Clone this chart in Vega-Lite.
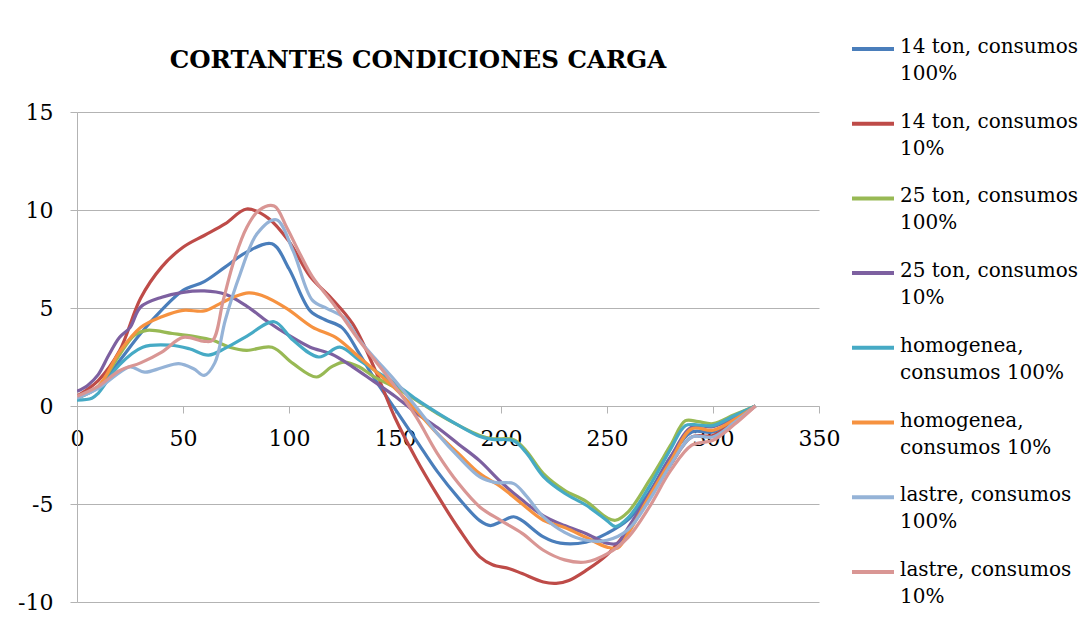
{
  "$schema": "https://vega.github.io/schema/vega-lite/v6.json",
  "autosize": {"type": "none"},
  "padding": {"left": 77, "top": 112, "right": 269, "bottom": 19},
  "width": 742,
  "height": 490,
  "background": "white",
  "title": {
    "text": "CORTANTES CONDICIONES CARGA",
    "font": "DejaVu Serif",
    "fontSize": 24.5,
    "fontWeight": "bold",
    "color": "black",
    "anchor": "middle",
    "dx": -30,
    "offset": 0,
    "dy": 47
  },
  "config": {
    "view": {"stroke": null},
    "axis": {
      "labelFont": "DejaVu Serif",
      "labelFontSize": 22,
      "labelColor": "black",
      "domainColor": "#b3b3b3",
      "tickColor": "#b3b3b3",
      "gridColor": "#b3b3b3",
      "tickSize": 7,
      "title": null,
      "labelExpr": "'' + datum.value"
    }
  },
  "data": {
    "values": [
      {"s":"14 ton, consumos 100%","x":0,"y":0.4},{"s":"14 ton, consumos 100%","x":10,"y":0.95},{"s":"14 ton, consumos 100%","x":20,"y":2.3},{"s":"14 ton, consumos 100%","x":30,"y":3.7},{"s":"14 ton, consumos 100%","x":40,"y":4.9},{"s":"14 ton, consumos 100%","x":50,"y":5.9},{"s":"14 ton, consumos 100%","x":60,"y":6.35},{"s":"14 ton, consumos 100%","x":70,"y":7.1},{"s":"14 ton, consumos 100%","x":80,"y":7.85},{"s":"14 ton, consumos 100%","x":92,"y":8.28},{"s":"14 ton, consumos 100%","x":100,"y":7.0},{"s":"14 ton, consumos 100%","x":110,"y":4.85},{"s":"14 ton, consumos 100%","x":117,"y":4.4},{"s":"14 ton, consumos 100%","x":125,"y":4.0},{"s":"14 ton, consumos 100%","x":133,"y":2.7},{"s":"14 ton, consumos 100%","x":140,"y":1.45},{"s":"14 ton, consumos 100%","x":150,"y":-0.15},{"s":"14 ton, consumos 100%","x":160,"y":-1.75},{"s":"14 ton, consumos 100%","x":170,"y":-3.35},{"s":"14 ton, consumos 100%","x":180,"y":-4.7},{"s":"14 ton, consumos 100%","x":190,"y":-5.85},{"s":"14 ton, consumos 100%","x":195,"y":-6.1},{"s":"14 ton, consumos 100%","x":200,"y":-5.9},{"s":"14 ton, consumos 100%","x":206,"y":-5.65},{"s":"14 ton, consumos 100%","x":210,"y":-5.85},{"s":"14 ton, consumos 100%","x":220,"y":-6.68},{"s":"14 ton, consumos 100%","x":228,"y":-7.0},{"s":"14 ton, consumos 100%","x":240,"y":-6.95},{"s":"14 ton, consumos 100%","x":250,"y":-6.5},{"s":"14 ton, consumos 100%","x":260,"y":-5.8},{"s":"14 ton, consumos 100%","x":270,"y":-4.4},{"s":"14 ton, consumos 100%","x":280,"y":-2.6},{"s":"14 ton, consumos 100%","x":290,"y":-1.33},{"s":"14 ton, consumos 100%","x":300,"y":-1.33},{"s":"14 ton, consumos 100%","x":310,"y":-0.7},{"s":"14 ton, consumos 100%","x":320,"y":0},

      {"s":"14 ton, consumos 10%","x":0,"y":0.5},{"s":"14 ton, consumos 10%","x":10,"y":1.3},{"s":"14 ton, consumos 10%","x":20,"y":2.8},{"s":"14 ton, consumos 10%","x":30,"y":5.5},{"s":"14 ton, consumos 10%","x":40,"y":7.1},{"s":"14 ton, consumos 10%","x":50,"y":8.1},{"s":"14 ton, consumos 10%","x":60,"y":8.7},{"s":"14 ton, consumos 10%","x":70,"y":9.3},{"s":"14 ton, consumos 10%","x":80,"y":10.05},{"s":"14 ton, consumos 10%","x":90,"y":9.6},{"s":"14 ton, consumos 10%","x":100,"y":8.4},{"s":"14 ton, consumos 10%","x":110,"y":6.6},{"s":"14 ton, consumos 10%","x":120,"y":5.5},{"s":"14 ton, consumos 10%","x":130,"y":4.2},{"s":"14 ton, consumos 10%","x":140,"y":2.0},{"s":"14 ton, consumos 10%","x":150,"y":-0.6},{"s":"14 ton, consumos 10%","x":160,"y":-2.7},{"s":"14 ton, consumos 10%","x":170,"y":-4.55},{"s":"14 ton, consumos 10%","x":180,"y":-6.25},{"s":"14 ton, consumos 10%","x":190,"y":-7.7},{"s":"14 ton, consumos 10%","x":196,"y":-8.1},{"s":"14 ton, consumos 10%","x":204,"y":-8.3},{"s":"14 ton, consumos 10%","x":210,"y":-8.55},{"s":"14 ton, consumos 10%","x":220,"y":-8.98},{"s":"14 ton, consumos 10%","x":226,"y":-9.05},{"s":"14 ton, consumos 10%","x":232,"y":-8.9},{"s":"14 ton, consumos 10%","x":240,"y":-8.4},{"s":"14 ton, consumos 10%","x":250,"y":-7.6},{"s":"14 ton, consumos 10%","x":260,"y":-6.3},{"s":"14 ton, consumos 10%","x":270,"y":-4.7},{"s":"14 ton, consumos 10%","x":280,"y":-3.0},{"s":"14 ton, consumos 10%","x":290,"y":-1.58},{"s":"14 ton, consumos 10%","x":300,"y":-1.5},{"s":"14 ton, consumos 10%","x":310,"y":-0.8},{"s":"14 ton, consumos 10%","x":320,"y":0},

      {"s":"25 ton, consumos 100%","x":0,"y":0.4},{"s":"25 ton, consumos 100%","x":10,"y":1.0},{"s":"25 ton, consumos 100%","x":20,"y":2.6},{"s":"25 ton, consumos 100%","x":27,"y":3.6},{"s":"25 ton, consumos 100%","x":33,"y":3.86},{"s":"25 ton, consumos 100%","x":45,"y":3.7},{"s":"25 ton, consumos 100%","x":55,"y":3.55},{"s":"25 ton, consumos 100%","x":64,"y":3.35},{"s":"25 ton, consumos 100%","x":72,"y":3.0},{"s":"25 ton, consumos 100%","x":80,"y":2.84},{"s":"25 ton, consumos 100%","x":92,"y":3.0},{"s":"25 ton, consumos 100%","x":102,"y":2.16},{"s":"25 ton, consumos 100%","x":113,"y":1.48},{"s":"25 ton, consumos 100%","x":120,"y":2.0},{"s":"25 ton, consumos 100%","x":126,"y":2.24},{"s":"25 ton, consumos 100%","x":133,"y":2.0},{"s":"25 ton, consumos 100%","x":140,"y":1.5},{"s":"25 ton, consumos 100%","x":150,"y":0.95},{"s":"25 ton, consumos 100%","x":160,"y":0.3},{"s":"25 ton, consumos 100%","x":170,"y":-0.39},{"s":"25 ton, consumos 100%","x":180,"y":-0.99},{"s":"25 ton, consumos 100%","x":190,"y":-1.5},{"s":"25 ton, consumos 100%","x":196,"y":-1.67},{"s":"25 ton, consumos 100%","x":206,"y":-1.72},{"s":"25 ton, consumos 100%","x":212,"y":-2.3},{"s":"25 ton, consumos 100%","x":220,"y":-3.45},{"s":"25 ton, consumos 100%","x":230,"y":-4.3},{"s":"25 ton, consumos 100%","x":240,"y":-4.85},{"s":"25 ton, consumos 100%","x":250,"y":-5.7},{"s":"25 ton, consumos 100%","x":254,"y":-5.83},{"s":"25 ton, consumos 100%","x":260,"y":-5.4},{"s":"25 ton, consumos 100%","x":270,"y":-3.8},{"s":"25 ton, consumos 100%","x":280,"y":-2.0},{"s":"25 ton, consumos 100%","x":287,"y":-0.75},{"s":"25 ton, consumos 100%","x":293,"y":-0.8},{"s":"25 ton, consumos 100%","x":300,"y":-0.9},{"s":"25 ton, consumos 100%","x":310,"y":-0.45},{"s":"25 ton, consumos 100%","x":320,"y":0},

      {"s":"25 ton, consumos 10%","x":0,"y":0.75},{"s":"25 ton, consumos 10%","x":5,"y":1.05},{"s":"25 ton, consumos 10%","x":10,"y":1.6},{"s":"25 ton, consumos 10%","x":15,"y":2.6},{"s":"25 ton, consumos 10%","x":20,"y":3.5},{"s":"25 ton, consumos 10%","x":25,"y":4.0},{"s":"25 ton, consumos 10%","x":30,"y":5.05},{"s":"25 ton, consumos 10%","x":40,"y":5.55},{"s":"25 ton, consumos 10%","x":50,"y":5.8},{"s":"25 ton, consumos 10%","x":60,"y":5.87},{"s":"25 ton, consumos 10%","x":70,"y":5.7},{"s":"25 ton, consumos 10%","x":80,"y":5.1},{"s":"25 ton, consumos 10%","x":90,"y":4.3},{"s":"25 ton, consumos 10%","x":100,"y":3.6},{"s":"25 ton, consumos 10%","x":110,"y":3.0},{"s":"25 ton, consumos 10%","x":120,"y":2.65},{"s":"25 ton, consumos 10%","x":130,"y":2.0},{"s":"25 ton, consumos 10%","x":140,"y":1.25},{"s":"25 ton, consumos 10%","x":150,"y":0.5},{"s":"25 ton, consumos 10%","x":160,"y":-0.35},{"s":"25 ton, consumos 10%","x":170,"y":-1.1},{"s":"25 ton, consumos 10%","x":180,"y":-1.95},{"s":"25 ton, consumos 10%","x":190,"y":-2.8},{"s":"25 ton, consumos 10%","x":200,"y":-3.88},{"s":"25 ton, consumos 10%","x":210,"y":-4.8},{"s":"25 ton, consumos 10%","x":220,"y":-5.6},{"s":"25 ton, consumos 10%","x":230,"y":-6.1},{"s":"25 ton, consumos 10%","x":240,"y":-6.5},{"s":"25 ton, consumos 10%","x":250,"y":-7.0},{"s":"25 ton, consumos 10%","x":255,"y":-7.0},{"s":"25 ton, consumos 10%","x":260,"y":-6.2},{"s":"25 ton, consumos 10%","x":270,"y":-4.5},{"s":"25 ton, consumos 10%","x":280,"y":-2.6},{"s":"25 ton, consumos 10%","x":290,"y":-1.07},{"s":"25 ton, consumos 10%","x":300,"y":-1.05},{"s":"25 ton, consumos 10%","x":310,"y":-0.6},{"s":"25 ton, consumos 10%","x":320,"y":0},

      {"s":"homogenea, consumos 100%","x":0,"y":0.3},{"s":"homogenea, consumos 100%","x":7,"y":0.4},{"s":"homogenea, consumos 100%","x":10,"y":0.65},{"s":"homogenea, consumos 100%","x":20,"y":2.1},{"s":"homogenea, consumos 100%","x":31,"y":3.0},{"s":"homogenea, consumos 100%","x":44,"y":3.1},{"s":"homogenea, consumos 100%","x":53,"y":2.92},{"s":"homogenea, consumos 100%","x":62,"y":2.6},{"s":"homogenea, consumos 100%","x":70,"y":2.95},{"s":"homogenea, consumos 100%","x":80,"y":3.55},{"s":"homogenea, consumos 100%","x":93,"y":4.3},{"s":"homogenea, consumos 100%","x":102,"y":3.35},{"s":"homogenea, consumos 100%","x":114,"y":2.5},{"s":"homogenea, consumos 100%","x":124,"y":3.0},{"s":"homogenea, consumos 100%","x":133,"y":2.35},{"s":"homogenea, consumos 100%","x":140,"y":1.85},{"s":"homogenea, consumos 100%","x":150,"y":1.15},{"s":"homogenea, consumos 100%","x":160,"y":0.35},{"s":"homogenea, consumos 100%","x":170,"y":-0.35},{"s":"homogenea, consumos 100%","x":180,"y":-0.99},{"s":"homogenea, consumos 100%","x":190,"y":-1.55},{"s":"homogenea, consumos 100%","x":196,"y":-1.7},{"s":"homogenea, consumos 100%","x":206,"y":-1.78},{"s":"homogenea, consumos 100%","x":212,"y":-2.4},{"s":"homogenea, consumos 100%","x":220,"y":-3.6},{"s":"homogenea, consumos 100%","x":230,"y":-4.45},{"s":"homogenea, consumos 100%","x":240,"y":-5.05},{"s":"homogenea, consumos 100%","x":250,"y":-5.85},{"s":"homogenea, consumos 100%","x":254,"y":-6.15},{"s":"homogenea, consumos 100%","x":260,"y":-5.7},{"s":"homogenea, consumos 100%","x":270,"y":-4.1},{"s":"homogenea, consumos 100%","x":280,"y":-2.2},{"s":"homogenea, consumos 100%","x":287,"y":-1.0},{"s":"homogenea, consumos 100%","x":293,"y":-0.97},{"s":"homogenea, consumos 100%","x":300,"y":-1.0},{"s":"homogenea, consumos 100%","x":310,"y":-0.5},{"s":"homogenea, consumos 100%","x":320,"y":0},

      {"s":"homogenea, consumos 10%","x":0,"y":0.45},{"s":"homogenea, consumos 10%","x":10,"y":1.0},{"s":"homogenea, consumos 10%","x":20,"y":2.75},{"s":"homogenea, consumos 10%","x":30,"y":4.0},{"s":"homogenea, consumos 10%","x":40,"y":4.55},{"s":"homogenea, consumos 10%","x":50,"y":4.88},{"s":"homogenea, consumos 10%","x":60,"y":4.85},{"s":"homogenea, consumos 10%","x":67,"y":5.2},{"s":"homogenea, consumos 10%","x":74,"y":5.56},{"s":"homogenea, consumos 10%","x":81,"y":5.77},{"s":"homogenea, consumos 10%","x":87,"y":5.65},{"s":"homogenea, consumos 10%","x":99,"y":4.97},{"s":"homogenea, consumos 10%","x":111,"y":4.03},{"s":"homogenea, consumos 10%","x":122,"y":3.5},{"s":"homogenea, consumos 10%","x":133,"y":2.5},{"s":"homogenea, consumos 10%","x":140,"y":1.85},{"s":"homogenea, consumos 10%","x":150,"y":0.9},{"s":"homogenea, consumos 10%","x":160,"y":-0.22},{"s":"homogenea, consumos 10%","x":170,"y":-1.41},{"s":"homogenea, consumos 10%","x":180,"y":-2.43},{"s":"homogenea, consumos 10%","x":190,"y":-3.45},{"s":"homogenea, consumos 10%","x":200,"y":-4.13},{"s":"homogenea, consumos 10%","x":210,"y":-5.0},{"s":"homogenea, consumos 10%","x":220,"y":-5.83},{"s":"homogenea, consumos 10%","x":230,"y":-6.2},{"s":"homogenea, consumos 10%","x":240,"y":-6.7},{"s":"homogenea, consumos 10%","x":250,"y":-7.2},{"s":"homogenea, consumos 10%","x":255,"y":-7.25},{"s":"homogenea, consumos 10%","x":260,"y":-6.5},{"s":"homogenea, consumos 10%","x":270,"y":-4.6},{"s":"homogenea, consumos 10%","x":280,"y":-2.8},{"s":"homogenea, consumos 10%","x":290,"y":-1.16},{"s":"homogenea, consumos 10%","x":300,"y":-1.24},{"s":"homogenea, consumos 10%","x":310,"y":-0.7},{"s":"homogenea, consumos 10%","x":320,"y":0},

      {"s":"lastre, consumos 100%","x":0,"y":0.4},{"s":"lastre, consumos 100%","x":10,"y":0.9},{"s":"lastre, consumos 100%","x":20,"y":1.7},{"s":"lastre, consumos 100%","x":25,"y":2.0},{"s":"lastre, consumos 100%","x":32,"y":1.73},{"s":"lastre, consumos 100%","x":40,"y":1.95},{"s":"lastre, consumos 100%","x":48,"y":2.16},{"s":"lastre, consumos 100%","x":55,"y":1.9},{"s":"lastre, consumos 100%","x":60,"y":1.56},{"s":"lastre, consumos 100%","x":65,"y":2.2},{"s":"lastre, consumos 100%","x":70,"y":4.4},{"s":"lastre, consumos 100%","x":77,"y":6.75},{"s":"lastre, consumos 100%","x":85,"y":8.8},{"s":"lastre, consumos 100%","x":94,"y":9.5},{"s":"lastre, consumos 100%","x":102,"y":7.9},{"s":"lastre, consumos 100%","x":111,"y":5.4},{"s":"lastre, consumos 100%","x":118,"y":4.97},{"s":"lastre, consumos 100%","x":126,"y":4.5},{"s":"lastre, consumos 100%","x":133,"y":3.4},{"s":"lastre, consumos 100%","x":140,"y":2.5},{"s":"lastre, consumos 100%","x":150,"y":1.3},{"s":"lastre, consumos 100%","x":160,"y":-0.05},{"s":"lastre, consumos 100%","x":170,"y":-1.41},{"s":"lastre, consumos 100%","x":180,"y":-2.6},{"s":"lastre, consumos 100%","x":190,"y":-3.62},{"s":"lastre, consumos 100%","x":197,"y":-3.9},{"s":"lastre, consumos 100%","x":206,"y":-3.96},{"s":"lastre, consumos 100%","x":212,"y":-4.6},{"s":"lastre, consumos 100%","x":220,"y":-5.66},{"s":"lastre, consumos 100%","x":230,"y":-6.45},{"s":"lastre, consumos 100%","x":240,"y":-6.85},{"s":"lastre, consumos 100%","x":250,"y":-6.85},{"s":"lastre, consumos 100%","x":260,"y":-6.3},{"s":"lastre, consumos 100%","x":270,"y":-4.8},{"s":"lastre, consumos 100%","x":280,"y":-3.0},{"s":"lastre, consumos 100%","x":290,"y":-1.58},{"s":"lastre, consumos 100%","x":300,"y":-1.58},{"s":"lastre, consumos 100%","x":310,"y":-0.85},{"s":"lastre, consumos 100%","x":320,"y":0},

      {"s":"lastre, consumos 10%","x":0,"y":0.5},{"s":"lastre, consumos 10%","x":10,"y":1.0},{"s":"lastre, consumos 10%","x":20,"y":1.8},{"s":"lastre, consumos 10%","x":30,"y":2.2},{"s":"lastre, consumos 10%","x":40,"y":2.75},{"s":"lastre, consumos 10%","x":50,"y":3.5},{"s":"lastre, consumos 10%","x":60,"y":3.3},{"s":"lastre, consumos 10%","x":64,"y":3.35},{"s":"lastre, consumos 10%","x":69,"y":5.4},{"s":"lastre, consumos 10%","x":74,"y":7.4},{"s":"lastre, consumos 10%","x":80,"y":9.1},{"s":"lastre, consumos 10%","x":86,"y":10.0},{"s":"lastre, consumos 10%","x":93,"y":10.2},{"s":"lastre, consumos 10%","x":99,"y":9.1},{"s":"lastre, consumos 10%","x":105,"y":7.8},{"s":"lastre, consumos 10%","x":111,"y":6.6},{"s":"lastre, consumos 10%","x":121,"y":5.2},{"s":"lastre, consumos 10%","x":133,"y":3.35},{"s":"lastre, consumos 10%","x":140,"y":2.4},{"s":"lastre, consumos 10%","x":150,"y":1.0},{"s":"lastre, consumos 10%","x":160,"y":-0.56},{"s":"lastre, consumos 10%","x":170,"y":-2.43},{"s":"lastre, consumos 10%","x":180,"y":-3.96},{"s":"lastre, consumos 10%","x":190,"y":-5.15},{"s":"lastre, consumos 10%","x":200,"y":-5.85},{"s":"lastre, consumos 10%","x":210,"y":-6.5},{"s":"lastre, consumos 10%","x":220,"y":-7.36},{"s":"lastre, consumos 10%","x":230,"y":-7.85},{"s":"lastre, consumos 10%","x":240,"y":-7.96},{"s":"lastre, consumos 10%","x":250,"y":-7.55},{"s":"lastre, consumos 10%","x":260,"y":-6.7},{"s":"lastre, consumos 10%","x":270,"y":-5.15},{"s":"lastre, consumos 10%","x":280,"y":-3.3},{"s":"lastre, consumos 10%","x":290,"y":-2.0},{"s":"lastre, consumos 10%","x":300,"y":-1.75},{"s":"lastre, consumos 10%","x":310,"y":-0.95},{"s":"lastre, consumos 10%","x":320,"y":0}
    ]
  },
  "mark": {"type": "line", "interpolate": "catmull-rom", "strokeWidth": 3.2, "clip": true},
  "encoding": {
    "x": {
      "field": "x", "type": "quantitative",
      "scale": {"domain": [0, 350], "nice": false, "zero": false},
      "axis": {"values": [0,50,100,150,200,250,300,350], "grid": false, "offset": -196, "labelPadding": 15, "labelFlush": false}
    },
    "y": {
      "field": "y", "type": "quantitative",
      "scale": {"domain": [-10, 15], "nice": false},
      "axis": {"values": [-10,-5,0,5,10,15], "grid": true, "labelPadding": 17}
    },
    "color": {
      "field": "s", "type": "nominal",
      "scale": {
        "domain": ["14 ton, consumos 100%","14 ton, consumos 10%","25 ton, consumos 100%","25 ton, consumos 10%","homogenea, consumos 100%","homogenea, consumos 10%","lastre, consumos 100%","lastre, consumos 10%"],
        "range": ["#4a7ebb","#be4b48","#98b954","#7d60a0","#46aac5","#f69240","#95b3d7","#d99694"]
      },
      "legend": {
        "title": null,
        "orient": "none",
        "legendX": 773,
        "legendY": -86,
        "symbolType": "stroke",
        "symbolSize": 1764,
        "symbolStrokeWidth": 4,
        "labelFont": "DejaVu Serif",
        "labelFontSize": 20,
        "labelColor": "black",
        "labelOffset": 4,
        "labelLimit": 400,
        "labelBaseline": "top",
        "rowPadding": 16.7,
        "labelExpr": "indexof(datum.label,'homogenea')==0 ? ['homogenea,', substring(datum.label, 11)] : [substring(datum.label,0,lastindexof(datum.label,' ')), substring(datum.label, lastindexof(datum.label,' ')+1)]",
        "encode": {"labels": {"update": {"lineHeight": {"value": 27}, "dy": {"value": -12}}}}
      }
    }
  }
}
